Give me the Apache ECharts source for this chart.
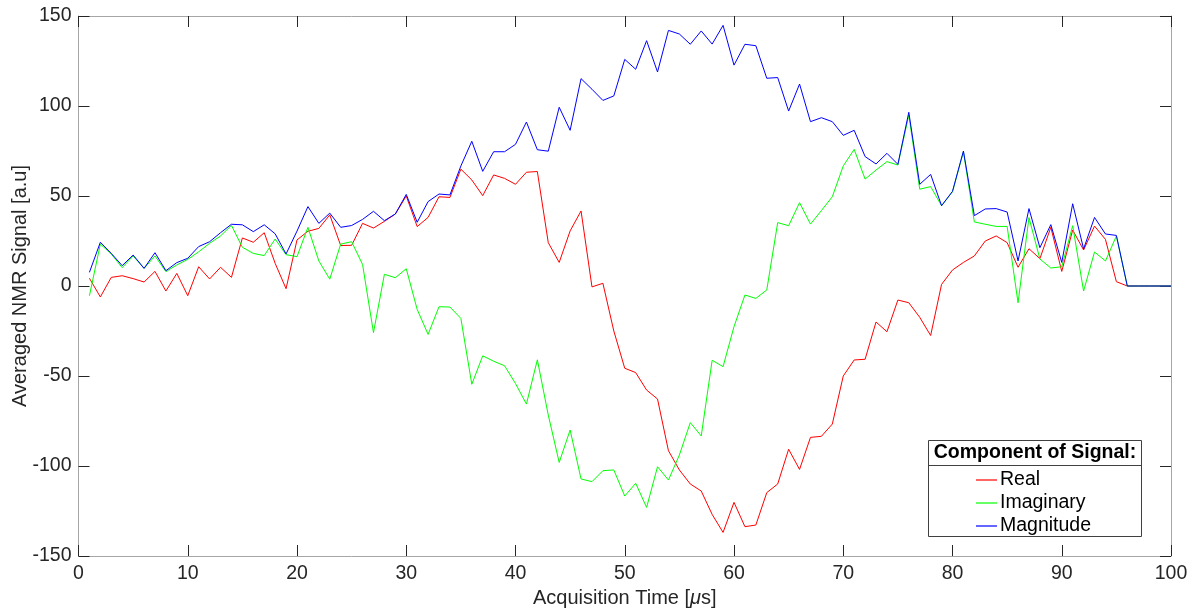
<!DOCTYPE html>
<html>
<head>
<meta charset="utf-8">
<script src="https://cdn.jsdelivr.net/npm/echarts@6/dist/echarts.min.js"></script>
<style>
  html, body { margin: 0; padding: 0; background: #fff; }
  #chart { width: 1196px; height: 611px; }
</style>
</head>
<body>
<div id="chart"></div>
<script>
// Acquisition time samples (µs)
const times = [];
for (let t = 1; t <= 100; t++) times.push(t);

// Averaged NMR signal components [a.u], one value per microsecond
const realPart = [
  4.3, -6.1, 4.8, 5.7, 4.1, 2.2, 8.1, -2.8, 7.0, -5.4,
  10.7, 3.9, 10.4, 4.8, 26.7, 24.3, 29.6, 12.6, -1.5, 25.6,
  30.4, 32.0, 39.5, 22.5, 22.6, 34.8, 32.2, 35.9, 40.0, 50.0,
  33.0, 38.1, 49.6, 49.2, 64.9, 58.9, 50.2, 61.7, 59.8, 56.5,
  63.2, 63.6, 24.1, 13.1, 30.6, 41.7, -0.5, 1.5, -25.0, -45.7,
  -48.1, -57.8, -62.8, -91.5, -102.2, -110.0, -113.9, -126.9, -136.9, -120.2,
  -133.7, -132.8, -114.8, -110.0, -90.7, -101.9, -84.1, -83.5, -76.7, -50.0,
  -41.1, -40.7, -20.0, -25.4, -7.8, -9.3, -17.4, -27.5, 0.9, 8.9,
  13.1, 16.7, 25.0, 27.8, 24.1, 10.4, 20.7, 15.2, 32.6, 8.1,
  31.1, 20.0, 33.3, 25.9, 2.4, 0, 0, 0, 0, 0
];
const imagPart = [
  -5.4, 23.3, 17.8, 10.2, 16.7, 9.8, 16.7, 8.0, 11.7, 14.8,
  19.0, 23.7, 27.8, 33.7, 21.5, 18.1, 16.9, 26.1, 17.4, 16.3,
  32.6, 13.9, 3.8, 23.3, 24.6, 12.0, -25.9, 6.5, 4.6, 9.6,
  -13.0, -26.9, -11.5, -11.7, -18.0, -54.6, -38.8, -41.8, -44.3, -54.2,
  -65.6, -41.0, -71.7, -98.0, -80.0, -107.2, -108.7, -102.6, -102.2, -116.7,
  -109.6, -123.0, -100.4, -107.8, -93.9, -75.9, -83.3, -41.3, -44.8, -22.6,
  -5.0, -6.9, -2.2, 35.2, 33.5, 46.3, 34.4, 41.9, 49.6, 66.7,
  75.9, 59.4, 64.4, 69.1, 67.2, 95.0, 53.8, 55.2, 44.6, 52.4,
  74.6, 35.6, 34.3, 33.1, 33.1, -9.3, 38.0, 15.0, 10.0, 10.7,
  33.5, -2.8, 18.9, 13.9, 27.8, 0, 0, 0, 0, 0
];
const magnitude = [
  7.6, 24.3, 18.1, 11.3, 17.2, 9.8, 18.5, 8.5, 13.0, 15.4,
  21.9, 24.6, 29.6, 34.3, 34.0, 30.2, 34.0, 29.0, 17.8, 30.5,
  44.1, 34.8, 40.5, 32.6, 33.6, 37.0, 41.5, 36.3, 40.0, 50.9,
  35.4, 46.9, 51.1, 50.6, 66.7, 80.4, 63.7, 74.6, 74.6, 78.7,
  91.1, 75.7, 74.9, 99.3, 86.5, 115.2, 109.3, 103.1, 105.6, 125.9,
  120.4, 136.3, 118.9, 142.0, 140.0, 134.3, 141.7, 134.4, 144.8, 122.7,
  134.3, 133.5, 115.4, 115.8, 97.2, 112.2, 91.3, 93.5, 91.3, 83.7,
  86.5, 71.9, 67.8, 73.7, 67.6, 96.5, 56.5, 62.0, 44.6, 52.6,
  75.0, 39.1, 42.8, 43.0, 41.1, 13.9, 43.0, 21.3, 34.1, 13.1,
  45.7, 20.6, 38.1, 28.9, 28.1, 0, 0, 0, 0, 0
];

const seriesNames = ['Real', 'Imaginary', 'Magnitude'];
const seriesColors = ['#ff0000', '#00ff00', '#0000ff'];
const legendTitle = 'Component of Signal:';

const xLabel = 'Acquisition Time [{mu|μ}s]';
const yLabel = 'Averaged NMR Signal [a.u]';

const FONT = '"Liberation Sans", Arial, Helvetica, sans-serif';
const TEXT_COLOR = '#262626';
const FRAME_COLOR = '#a6a6a6';

const toPairs = vals => times.map((t, i) => [t, vals[i]]);

const chart = echarts.init(document.getElementById('chart'), null, { renderer: 'canvas' });

const tickCommon = {
  show: true, inside: true, length: 11,
  lineStyle: { color: TEXT_COLOR, width: 1 }
};
const lineCommon = { show: true, onZero: false, lineStyle: { color: FRAME_COLOR, width: 1 } };

chart.setOption({
  animation: false,
  backgroundColor: '#ffffff',
  textStyle: { fontFamily: FONT },
  grid: { left: 78.5, right: 25, top: 16, bottom: 55, containLabel: false, outerBoundsMode: 'none' },
  xAxis: [
    {
      type: 'value', position: 'bottom', min: 0, max: 100, interval: 10,
      axisLine: lineCommon, axisTick: tickCommon, splitLine: { show: false },
      axisLabel: { color: TEXT_COLOR, fontSize: 19.5, fontFamily: FONT, margin: 8 },
      name: xLabel, nameLocation: 'middle', nameGap: 32, nameMoveOverlap: false,
      nameTextStyle: {
        color: TEXT_COLOR, fontSize: 20, fontFamily: FONT,
        rich: { mu: { fontStyle: 'italic', fontSize: 20, fontFamily: FONT, color: TEXT_COLOR } }
      }
    },
    {
      type: 'value', position: 'top', min: 0, max: 100, interval: 10,
      axisLine: lineCommon, axisTick: tickCommon, splitLine: { show: false },
      axisLabel: { show: false }
    }
  ],
  yAxis: [
    {
      type: 'value', position: 'left', min: -150, max: 150, interval: 50,
      axisLine: lineCommon, axisTick: tickCommon, splitLine: { show: false },
      axisLabel: { color: TEXT_COLOR, fontSize: 19.5, fontFamily: FONT, margin: 7 },
      name: yLabel, nameLocation: 'middle', nameGap: 48, nameRotate: 90, nameMoveOverlap: false,
      nameTextStyle: { color: TEXT_COLOR, fontSize: 20, fontFamily: FONT }
    },
    {
      type: 'value', position: 'right', min: -150, max: 150, interval: 50,
      axisLine: lineCommon, axisTick: tickCommon, splitLine: { show: false },
      axisLabel: { show: false }
    }
  ],
  legend: {
    orient: 'vertical',
    left: 971, top: 465,
    icon: 'rect',
    itemWidth: 21, itemHeight: 1.2, itemGap: 3,
    selectedMode: false,
    z: 10,
    textStyle: { color: '#000000', fontSize: 19.5, fontFamily: FONT, padding: [0, 0, 0, -2], lineHeight: 20 },
    data: seriesNames
  },
  graphic: [
    {
      type: 'rect', z: 5, silent: true,
      shape: { x: 928.5, y: 440.5, width: 213, height: 96 },
      style: { fill: '#ffffff', stroke: '#404040', lineWidth: 1 }
    },
    {
      type: 'line', z: 6, silent: true,
      shape: { x1: 928.5, y1: 465.5, x2: 1141.5, y2: 465.5 },
      style: { stroke: '#404040', lineWidth: 1 }
    },
    {
      type: 'text', z: 6, silent: true,
      style: {
        x: 1035, y: 453, text: legendTitle, align: 'center', verticalAlign: 'middle',
        fill: '#000000', font: 'bold 19.5px ' + FONT
      }
    }
  ],
  series: [realPart, imagPart, magnitude].map((vals, i) => ({
    name: seriesNames[i],
    type: 'line',
    xAxisIndex: 0, yAxisIndex: 0,
    data: toPairs(vals),
    symbol: 'none', showSymbol: false,
    color: seriesColors[i],
    lineStyle: { color: seriesColors[i], width: 1 },
    z: 2 + i
  }))
});
</script>
</body>
</html>
